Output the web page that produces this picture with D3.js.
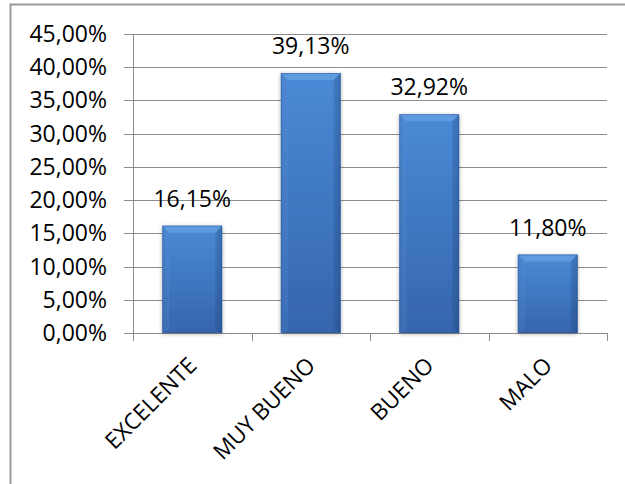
<!DOCTYPE html>
<html><head><meta charset="utf-8">
<script src="https://cdn.jsdelivr.net/npm/d3@7"></script>
<style>
html,body{margin:0;padding:0;background:#fff;}
svg{display:block;}
text{font-family:"Open Sans","Liberation Sans",sans-serif;fill:#000;}
</style></head>
<body>
<script>
const categories = ["EXCELENTE", "MUY BUENO", "BUENO", "MALO"];
const values = [16.15, 39.13, 32.92, 11.80];
const valueLabels = ["16,15%", "39,13%", "32,92%", "11,80%"];
const yTicks = [0, 5, 10, 15, 20, 25, 30, 35, 40, 45];

(function () {
const W = 625, H = 484;
const svg = d3.select("body").append("svg").attr("width", W).attr("height", H);

// chart border
svg.append("rect").attr("x", 10.5).attr("y", 4.5).attr("width", 640).attr("height", 520)
  .attr("fill", "none").attr("stroke", "#9a9a9a").attr("stroke-width", 2);

const pLeft = 133, pRight = 607, pTop = 34, pBottom = 333;
const x = d3.scaleBand().domain(categories).range([pLeft, pRight]).paddingInner(0.495).paddingOuter(0.2475);
const y = d3.scaleLinear().domain([0, 45]).range([pBottom, pTop]);

const defs = svg.append("defs");
const gV = defs.append("linearGradient").attr("id", "gv").attr("x1", 0).attr("y1", 0).attr("x2", 0).attr("y2", 1);
gV.append("stop").attr("offset", "0%").attr("stop-color", "#4a8ad6");
gV.append("stop").attr("offset", "100%").attr("stop-color", "#3565ad");
const gH = defs.append("linearGradient").attr("id", "gh").attr("x1", 0).attr("y1", 0).attr("x2", 1).attr("y2", 0);
gH.append("stop").attr("offset", "0%").attr("stop-color", "#000").attr("stop-opacity", 0.08);
gH.append("stop").attr("offset", "12%").attr("stop-color", "#000").attr("stop-opacity", 0);
gH.append("stop").attr("offset", "88%").attr("stop-color", "#000").attr("stop-opacity", 0);
gH.append("stop").attr("offset", "100%").attr("stop-color", "#000").attr("stop-opacity", 0.12);
const flt = defs.append("filter").attr("id", "sh").attr("x", "-20%").attr("y", "-20%").attr("width", "140%").attr("height", "140%");
flt.append("feGaussianBlur").attr("in", "SourceAlpha").attr("stdDeviation", 2);
flt.append("feOffset").attr("dx", 0).attr("dy", 1).attr("result", "b");
flt.append("feComponentTransfer").append("feFuncA").attr("type", "linear").attr("slope", 0.3);
const m = flt.append("feMerge");
m.append("feMergeNode");
m.append("feMergeNode").attr("in", "SourceGraphic");

// gridlines
svg.append("g").selectAll("line").data(yTicks).join("line")
  .attr("x1", pLeft - 9).attr("x2", pRight)
  .attr("y1", d => Math.round(y(d)) + 0.5).attr("y2", d => Math.round(y(d)) + 0.5)
  .attr("stroke", "#8c8c8c").attr("stroke-width", 1);

// y axis line
svg.append("line").attr("x1", pLeft + 0.5).attr("x2", pLeft + 0.5).attr("y1", pTop).attr("y2", pBottom + 8)
  .attr("stroke", "#8c8c8c");

// x ticks
const xTickPos = categories.map((c) => x(c) - x.step() * x.paddingInner() / 2);
xTickPos.push(pRight);
svg.append("g").selectAll("line").data(xTickPos).join("line")
  .attr("x1", d => Math.round(d) + 0.5).attr("x2", d => Math.round(d) + 0.5)
  .attr("y1", pBottom).attr("y2", pBottom + 8).attr("stroke", "#8c8c8c");

// y labels
svg.append("g").selectAll("text").data(yTicks).join("text")
  .attr("x", 107).attr("y", d => y(d) + 8)
  .attr("text-anchor", "end").attr("font-size", 23)
  .text(d => d3.format(".2f")(d).replace(".", ",") + "%");

// bars
const bars = svg.append("g").selectAll("g").data(values).join("g")
  .attr("filter", "url(#sh)");
bars.each(function(v, i) {
  const g = d3.select(this);
  const bx = x(categories[i]), bw = x.bandwidth(), by = y(v), bh = pBottom - y(v);
  g.append("rect").attr("x", bx).attr("y", by).attr("width", bw).attr("height", bh).attr("fill", "url(#gv)");
  g.append("rect").attr("x", bx).attr("y", by).attr("width", bw).attr("height", bh).attr("fill", "url(#gh)");
  const b = 7;
  g.append("path").attr("d", `M${bx},${by}L${bx + bw},${by}L${bx + bw - b},${by + b}L${bx + b},${by + b}Z`)
    .attr("fill", "#6aa3e6").attr("opacity", 0.7);
  g.append("path").attr("d", `M${bx},${by}L${bx + b},${by + b}L${bx + b},${by + bh - 3}L${bx},${by + bh}Z`)
    .attr("fill", "#5a95dc").attr("opacity", 0.25);
  g.append("path").attr("d", `M${bx + bw},${by}L${bx + bw - b},${by + b}L${bx + bw - b},${by + bh - 3}L${bx + bw},${by + bh}Z`)
    .attr("fill", "#1f4680").attr("opacity", 0.2);
  g.append("rect").attr("x", bx + 0.5).attr("y", by + 0.5).attr("width", bw - 1).attr("height", bh - 1)
    .attr("fill", "none").attr("stroke", "#2f5d9c").attr("stroke-width", 1).attr("opacity", 0.5);
});

// value labels
svg.append("g").selectAll("text").data(values).join("text")
  .attr("x", (d, i) => x(categories[i]) + x.bandwidth() / 2)
  .attr("y", d => y(d) - 19)
  .attr("text-anchor", "middle").attr("font-size", 23)
  .text((d, i) => valueLabels[i]);

// category labels
svg.append("g").selectAll("text").data(categories).join("text")
  .attr("transform", d => `translate(${x(d) + x.bandwidth() / 2 - 6},${355}) rotate(-45)`)
  .attr("text-anchor", "end").attr("dy", "0.75em").attr("font-size", 22.5)
  .text(d => d);
})();
</script>
</body></html>
